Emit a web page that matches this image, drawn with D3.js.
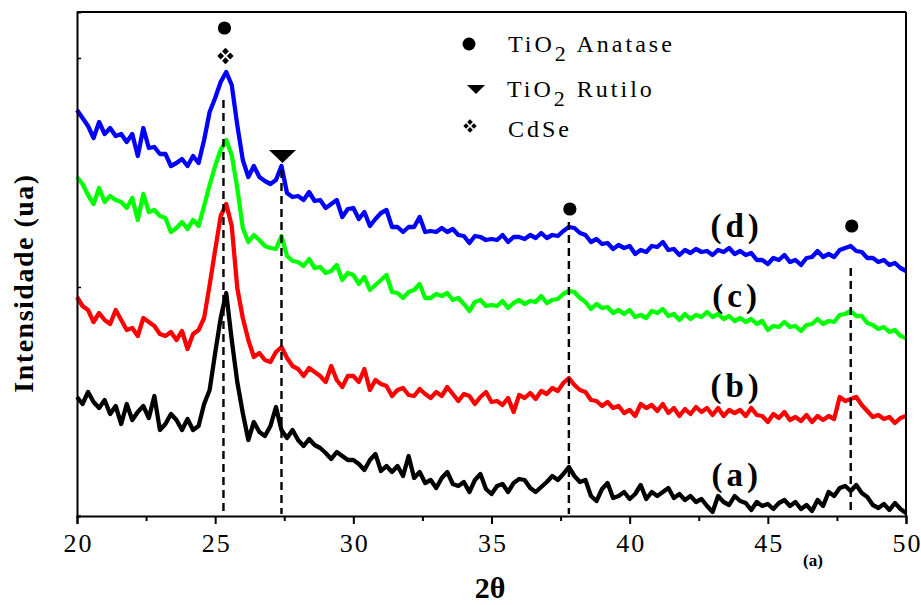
<!DOCTYPE html>
<html>
<head>
<meta charset="utf-8">
<script src="https://cdn.jsdelivr.net/npm/d3@7"></script>
<style>
  html, body { margin: 0; padding: 0; background: #fff; }
  svg { display: block; }
  text { font-family: "Liberation Serif", "Times New Roman", serif; fill: #000; }
</style>
</head>
<body>
<svg id="chart" width="921" height="605"></svg>
<script>
// XRD scan: 2θ from 20° to 50°, 0.2° step
const scanStart = 20, scanStep = 0.2;

// Intensity (a.u.) for each sample, one value per scan step
const seriesA = [119,112,124,114,108,116,102,110,92,112,
  96,104,110,98,120,86,92,102,96,86,
  97,86,90,112,126,163,198,223,176,134,
  103,76,94,84,80,90,109,86,78,86,
  76,70,77,71,68,63,57,64,60,56,
  56,52,46,56,62,45,50,44,50,40,
  60,38,44,33,36,28,38,44,32,30,
  34,24,36,42,27,22,30,32,24,33,
  37,36,28,24,29,34,40,36,42,49,
  40,34,36,20,15,27,33,18,20,24,
  17,22,31,17,24,20,24,28,18,22,
  16,20,14,17,10,4,20,14,11,20,
  15,13,6,14,10,12,7,13,16,10,
  14,7,11,5,16,10,24,20,28,30,
  25,31,23,19,11,8,12,6,13,7,3];

const seriesB = [219,210,206,194,203,196,192,206,196,186,
  188,180,198,194,190,182,180,184,176,185,
  167,182,186,198,231,266,300,312,290,228,
  198,176,159,163,156,154,164,169,158,150,
  147,140,148,144,140,134,150,136,129,140,
  140,134,147,126,136,132,130,120,126,128,
  121,120,127,122,118,124,120,129,122,115,
  122,120,112,119,124,114,115,111,118,104,
  121,118,123,117,125,122,128,125,133,138,
  131,126,124,116,115,110,114,108,110,103,
  106,100,112,108,111,105,112,103,108,100,
  107,102,109,104,108,101,108,100,106,103,
  106,100,108,101,100,94,102,98,104,96,
  99,95,101,94,100,96,100,97,119,115,
  117,119,111,105,99,101,97,99,93,98,100];

const seriesC = [339,332,321,312,328,314,320,316,314,308,
  318,296,322,304,306,300,298,284,288,294,
  287,296,290,310,331,350,366,376,361,328,
  288,274,281,276,270,268,267,280,260,255,
  254,250,257,248,249,243,245,251,236,243,
  241,232,239,226,231,236,241,224,223,218,
  224,226,232,218,218,222,220,223,216,218,
  212,205,214,216,210,211,210,215,208,213,
  216,212,215,214,220,213,216,217,222,225,
  224,218,214,207,212,208,209,203,206,202,
  206,199,201,198,205,203,207,200,202,196,
  202,197,201,199,204,199,202,197,200,195,
  198,194,197,192,195,186,190,189,194,189,
  190,185,191,192,197,192,195,194,201,202,
  205,200,200,193,191,187,189,184,186,180,178];

const seriesD = [406,398,390,378,394,382,388,380,382,374,
  382,360,388,368,369,362,362,350,353,357,
  350,360,353,376,404,418,434,444,431,391,
  356,339,350,339,335,332,336,350,323,319,
  320,316,324,315,316,308,312,316,299,307,
  308,297,304,290,297,303,306,289,289,284,
  289,289,299,284,285,284,288,284,287,281,
  280,273,280,279,276,277,276,281,274,279,
  279,277,281,278,283,278,281,280,285,289,
  288,283,281,274,277,272,273,267,271,268,
  270,262,266,264,270,269,274,266,267,261,
  266,263,267,264,265,261,266,264,268,262,
  265,261,263,256,256,252,258,256,261,254,
  256,251,258,259,265,259,262,259,266,268,
  270,265,264,258,258,254,256,251,253,248,245];

const seriesNames = ["(a)", "(b)", "(c)", "(d)"];
const seriesColors = ["#000000", "#ff0000", "#00ff00", "#0000ff"];
const seriesValues = [seriesA, seriesB, seriesC, seriesD];
const labelIntensity = [30, 119, 209, 279];   // baseline height of each curve label
const labelAngle = 43.8;                       // 2θ position of the curve labels

// Reflections marked with dashed lines: position, phase, top of the line
const peakPositions = [25.3, 27.4, 37.8, 48.0];
const peakPhases = ["anatase+cdse", "rutilo", "anatase", "anatase"];
const peakLineTop = [416, 346, 294, 248];
const peakMarkTop = [488, 366, 307, 290];

const xTicks = [20, 25, 30, 35, 40, 45, 50];
const xMinorTicks = [22.5, 27.5, 32.5, 37.5, 42.5, 47.5];
const yTicks = [0, 229, 458];

const legendItems = [
  { symbol: "circle", main: "TiO", sub: "2", rest: " Anatase" },
  { symbol: "triangle", main: "TiO", sub: "2", rest: " Rutilo" },
  { symbol: "cdse", main: " CdSe", sub: "", rest: "" }
];

const svg = d3.select("#chart");
const margin = { left: 77, right: 15, top: 12, bottom: 89 };
const W = 921, H = 605;

const x = d3.scaleLinear().domain([20, 50]).range([margin.left, W - margin.right]);
const y = d3.scaleLinear().domain([0, 504]).range([H - margin.bottom, margin.top]);

// Four small diamonds arranged as a diamond
function cdsePath(cx, cy, s) {
  const d = s * 0.28, h = s * 0.2;
  let p = "";
  [[0, -d], [d, 0], [0, d], [-d, 0]].forEach(([dx, dy]) => {
    const px = cx + dx, py = cy + dy;
    p += `M${px},${py - h}L${px + h},${py}L${px},${py + h}L${px - h},${py}Z`;
  });
  return p;
}
function trianglePath(cx, top, w, h) {
  return `M${cx - w / 2},${top}L${cx + w / 2},${top}L${cx},${top + h}Z`;
}

// Curves
const line = d3.line()
  .x((d, i) => x(scanStart + i * scanStep))
  .y(d => y(d));

seriesValues.forEach((vals, i) => {
  svg.append("path")
    .datum(vals)
    .attr("d", line)
    .attr("fill", "none")
    .attr("stroke", seriesColors[i])
    .attr("stroke-width", 4.3)
    .attr("stroke-linejoin", "round");
});

// Dashed reflection lines
peakPositions.forEach((p, i) => {
  svg.append("line")
    .attr("x1", x(p)).attr("x2", x(p))
    .attr("y1", y(peakLineTop[i])).attr("y2", y(2))
    .attr("stroke", "#000")
    .attr("stroke-width", 2.4)
    .attr("stroke-dasharray", "8,5");
});

// Phase markers above the reflections
peakPositions.forEach((p, i) => {
  const cx = x(p) + 1;
  if (peakPhases[i].startsWith("anatase")) {
    svg.append("circle")
      .attr("cx", cx).attr("cy", y(peakMarkTop[i]))
      .attr("r", 6.6).attr("fill", "#000");
  }
  if (peakPhases[i] === "anatase+cdse") {
    svg.append("path")
      .attr("d", cdsePath(cx + 1, y(peakMarkTop[i] - 28), 17))
      .attr("fill", "#000");
  }
  if (peakPhases[i] === "rutilo") {
    svg.append("path")
      .attr("d", trianglePath(cx, y(peakMarkTop[i]), 27, 13))
      .attr("fill", "#000");
  }
});

// Axes
const xAxis = d3.axisBottom(x).tickValues(xTicks).tickSize(8).tickPadding(10)
  .tickFormat(d3.format("d"));
const gx = svg.append("g")
  .attr("transform", `translate(0,${y(0)})`)
  .call(xAxis);
gx.select(".domain").attr("stroke-width", 2);
gx.selectAll(".tick line").attr("stroke-width", 2);
gx.selectAll(".tick text")
  .attr("font-size", 26)
  .attr("letter-spacing", "2px")
  .attr("dx", "1px");

const xMinor = d3.axisBottom(x).tickValues(xMinorTicks).tickSize(5).tickFormat("");
const gxm = svg.append("g")
  .attr("transform", `translate(0,${y(0)})`)
  .call(xMinor);
gxm.select(".domain").remove();
gxm.selectAll(".tick line").attr("stroke-width", 2);

const yAxis = d3.axisLeft(y).tickValues(yTicks).tickSize(-4).tickFormat("");
const gy = svg.append("g")
  .attr("transform", `translate(${x(20)},0)`)
  .call(yAxis);
gy.select(".domain").attr("stroke-width", 2);
gy.selectAll(".tick line").attr("stroke-width", 1.5);

// Top and right frame
svg.append("line")
  .attr("x1", x(20)).attr("x2", x(50)).attr("y1", y(504)).attr("y2", y(504))
  .attr("stroke", "#000").attr("stroke-width", 2);
svg.append("line")
  .attr("x1", x(50)).attr("x2", x(50)).attr("y1", y(504)).attr("y2", y(0))
  .attr("stroke", "#000").attr("stroke-width", 2);

// Curve labels
seriesNames.forEach((n, i) => {
  svg.append("text")
    .attr("x", x(labelAngle) + 2)
    .attr("y", y(labelIntensity[i]))
    .attr("text-anchor", "middle")
    .attr("font-size", 33)
    .attr("font-weight", "bold")
    .attr("letter-spacing", "4px")
    .text(n);
});

// Axis titles
svg.append("text")
  .attr("x", 490).attr("y", 598)
  .attr("text-anchor", "middle")
  .attr("font-size", 30)
  .attr("font-weight", "bold")
  .text("2θ");

svg.append("text")
  .attr("transform", "translate(33,283) rotate(-90)")
  .attr("text-anchor", "middle")
  .attr("font-size", 28)
  .attr("font-weight", "bold")
  .attr("letter-spacing", "1.5px")
  .text("Intensidade (ua)");

svg.append("text")
  .attr("x", 813).attr("y", 566)
  .attr("text-anchor", "middle")
  .attr("font-size", 17)
  .attr("font-weight", "bold")
  .text("(a)");

// Legend
const legendX = 469, legendTextX = [508, 507, 508], legendY = [52, 97, 137];
legendItems.forEach((it, i) => {
  const cy = legendY[i] - 8;
  if (it.symbol === "circle") {
    svg.append("circle").attr("cx", legendX).attr("cy", cy).attr("r", 6.5).attr("fill", "#000");
  } else if (it.symbol === "triangle") {
    svg.append("path").attr("d", trianglePath(legendX + 7, cy - 4, 18, 9)).attr("fill", "#000");
  } else {
    svg.append("path").attr("d", cdsePath(legendX + 1, cy - 3, 14)).attr("fill", "#000");
  }
  const t = svg.append("text")
    .attr("x", legendTextX[i]).attr("y", legendY[i])
    .attr("font-size", 24)
    .attr("letter-spacing", "3px");
  t.append("tspan").text(it.main);
  if (it.sub) {
    t.append("tspan").attr("dy", 9).attr("font-size", 22).text(it.sub);
    t.append("tspan").attr("dy", -9).text(it.rest);
  }
});
</script>
</body>
</html>
